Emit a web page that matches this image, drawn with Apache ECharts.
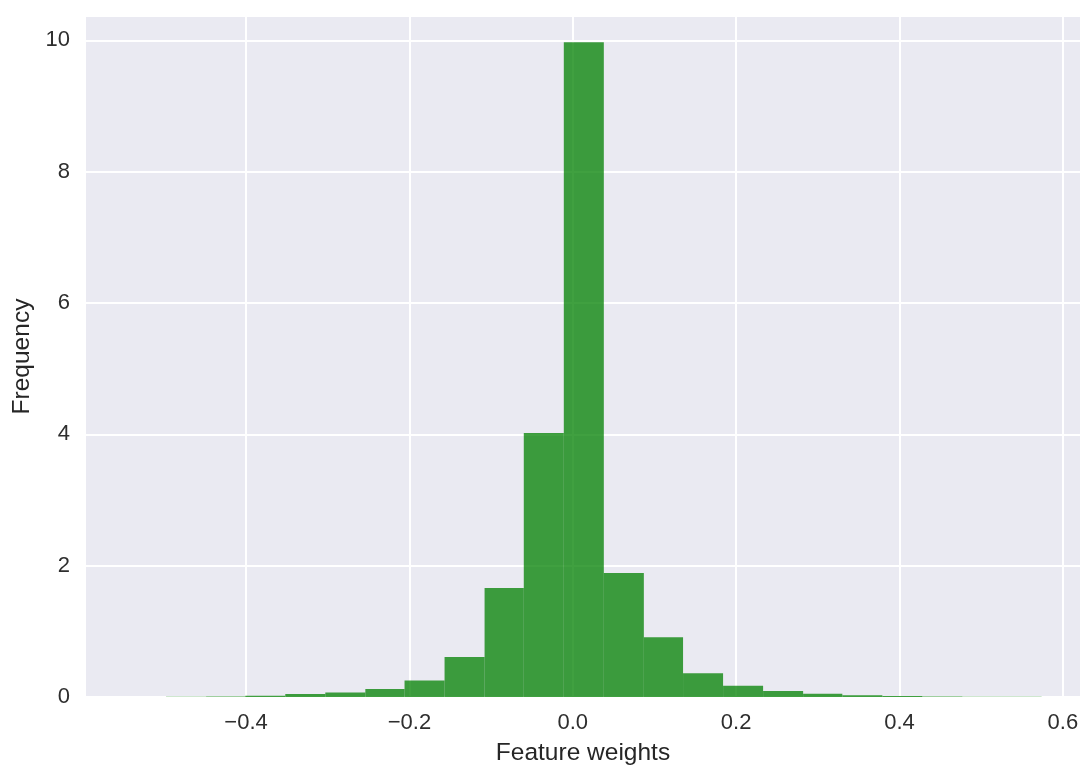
<!DOCTYPE html>
<html>
<head>
<meta charset="utf-8">
<script src="https://cdn.jsdelivr.net/npm/echarts@6/dist/echarts.min.js"></script>
<style>
html,body{margin:0;padding:0;background:#fff;}
#chart{width:1080px;height:765px;}
</style>
</head>
<body>
<div id="chart"></div>
<script>
// Histogram bin edges (23 edges -> 22 bins)
const binEdges = [-0.498, -0.449, -0.401, -0.352, -0.303, -0.254, -0.206, -0.157, -0.108, -0.060, -0.011,
                  0.038, 0.087, 0.135, 0.184, 0.233, 0.282, 0.330, 0.379, 0.428, 0.477, 0.525, 0.574];
// Frequency (density) per bin
const frequencies = [0.005, 0.006, 0.02, 0.045, 0.07, 0.12, 0.25, 0.61, 1.66, 4.02, 9.97,
                     1.89, 0.91, 0.36, 0.17, 0.09, 0.05, 0.028, 0.015, 0.006, 0.005, 0.004];
const xTicks = [-0.4, -0.2, 0.0, 0.2, 0.4, 0.6];
const xTitle = 'Feature weights';
const yTitle = 'Frequency';

const data = frequencies.map((f, i) => [binEdges[i], binEdges[i + 1], f]);

const chart = echarts.init(document.getElementById('chart'));
const font = "'Liberation Sans', Arial, sans-serif";
chart.setOption({
  animation: false,
  backgroundColor: '#ffffff',
  grid: { left: 86, right: 0, top: 16, bottom: 68, containLabel: false, outerBoundsMode: 'none',
          show: true, backgroundColor: '#EAEAF2', borderWidth: 0 },
  xAxis: {
    type: 'value',
    min: -0.596,
    max: 0.621,
    axisLine: { show: false },
    axisTick: { show: false, customValues: xTicks },
    axisLabel: {
      customValues: xTicks,
      margin: 15,
      fontSize: 22,
      color: '#2e2e2e',
      fontFamily: font,
      formatter: v => v.toFixed(1).replace('-', '\u2212')
    },
    splitLine: { show: true, lineStyle: { color: '#ffffff', width: 2 } },
    name: xTitle,
    nameLocation: 'middle',
    nameGap: 44,
    nameTextStyle: { fontSize: 24.5, color: '#262626', fontFamily: font }
  },
  yAxis: {
    type: 'value',
    min: 0,
    max: 10.37,
    interval: 2,
    axisLine: { show: false },
    axisTick: { show: false },
    axisLabel: {
      margin: 16,
      fontSize: 22,
      color: '#2e2e2e',
      fontFamily: font,
      showMaxLabel: false
    },
    splitLine: { show: true, lineStyle: { color: '#ffffff', width: 2 } },
    name: yTitle,
    nameLocation: 'middle',
    nameGap: 50,
    nameTextStyle: { fontSize: 24.5, color: '#262626', fontFamily: font }
  },
  series: [{
    type: 'custom',
    data: data,
    encode: { x: [0, 1], y: 2 },
    renderItem: function (params, api) {
      const x0 = api.value(0), x1 = api.value(1), h = api.value(2);
      const p0 = api.coord([x0, h]);
      const p1 = api.coord([x1, 0]);
      return {
        type: 'rect',
        shape: { x: p0[0], y: p0[1], width: p1[0] - p0[0], height: p1[1] - p0[1] },
        style: { fill: 'rgba(0,128,0,0.75)' }
      };
    }
  }]
});
</script>
</body>
</html>
